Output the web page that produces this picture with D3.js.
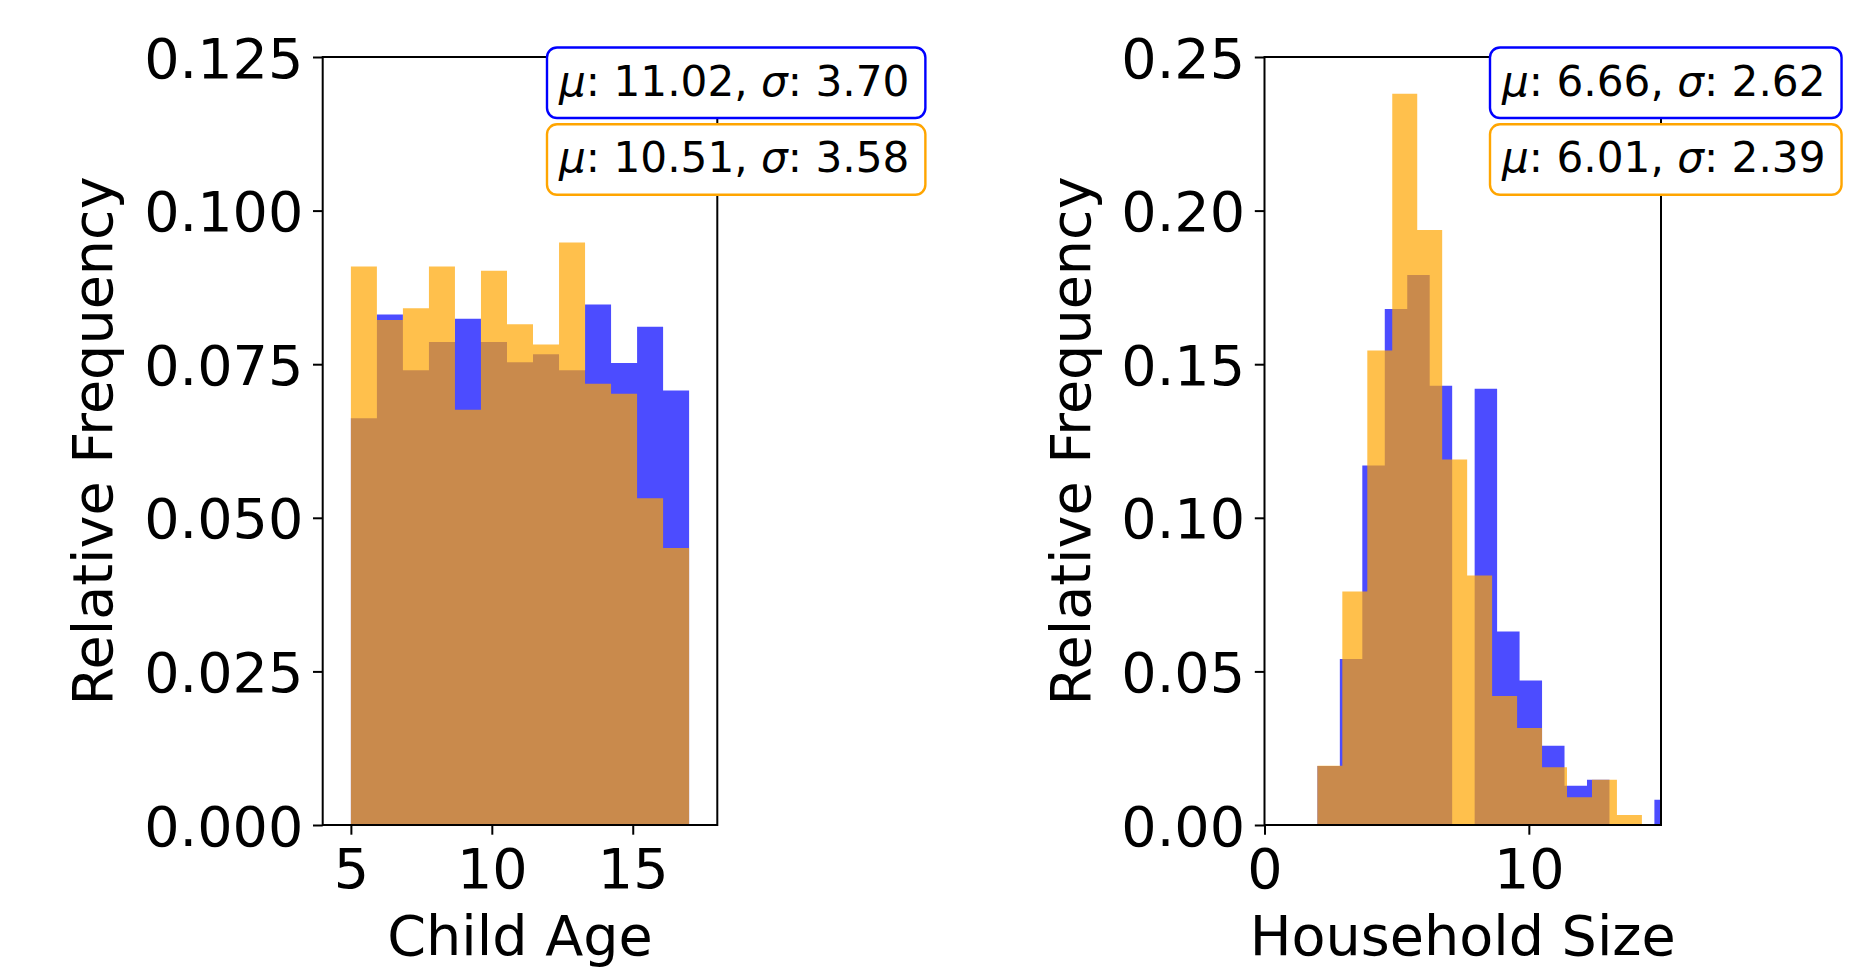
<!DOCTYPE html>
<html><head><meta charset="utf-8">
<script src="https://cdn.jsdelivr.net/npm/d3@7"></script>
<style>
body{margin:0;background:#fff}
svg text{font-family:"DejaVu Sans",sans-serif;fill:#000}
</style>
</head><body>
<svg id="c" width="1874" height="975"></svg>
<script>
// ---------- data ----------
// Child Age histogram (13 bins, 5..17)
const ageEdges = [5, 5.923, 6.846, 7.769, 8.692, 9.615, 10.538, 11.462, 12.385, 13.308, 14.231, 15.154, 16.077, 17];
const ageBlue   = [0.0662, 0.0831, 0.0740, 0.0786, 0.0824, 0.0786, 0.0753, 0.0766, 0.0740, 0.0847, 0.0752, 0.0811, 0.0707];
const ageOrange = [0.0909, 0.0822, 0.0841, 0.0909, 0.0676, 0.0902, 0.0815, 0.0782, 0.0948, 0.0718, 0.0702, 0.0532, 0.0451];
const ageYTicks = [0, 0.025, 0.05, 0.075, 0.1, 0.125];
const ageYLabels = ["0.000", "0.025", "0.050", "0.075", "0.100", "0.125"];
const ageXTicks = [5, 10, 15];
const ageXLabels = ["5", "10", "15"];
const ageMu = ["11.02", "10.51"];
const ageSigma = ["3.70", "3.58"];

// Household Size histogram
const hhBlueEdges = [2, 2.85, 3.7, 4.55, 5.4, 6.25, 7.1, 7.95, 8.8, 9.65, 10.5, 11.35, 12.2, 13.05, 13.9, 14.75, 15.6];
const hhBlue      = [0.0192, 0.054, 0.117, 0.168, 0.179, 0.143, 0, 0.142, 0.063, 0.047, 0.0258, 0.0128, 0.0147, 0, 0, 0.0082];
const hhOrangeEdges = [2, 2.944, 3.889, 4.833, 5.778, 6.722, 7.667, 8.611, 9.556, 10.5, 11.444, 12.389, 13.333, 14.278];
const hhOrange      = [0.0193, 0.076, 0.1545, 0.238, 0.1937, 0.119, 0.0812, 0.042, 0.0316, 0.0188, 0.009, 0.0147, 0.00325];
const hhYTicks = [0, 0.05, 0.1, 0.15, 0.2, 0.25];
const hhYLabels = ["0.00", "0.05", "0.10", "0.15", "0.20", "0.25"];
const hhXTicks = [0, 10];
const hhXLabels = ["0", "10"];
const hhMu = ["6.66", "6.01"];
const hhSigma = ["2.62", "2.39"];

const seriesColors = ["#0000ff", "#ffa500"];

// ---------- drawing ----------
const svg = d3.select("#c");
const TOP = 57, BOTTOM = 825;
const TICK = 9.7, PAD = 9.7, FS = 55.6, AFS = 42.2;

function panel(cfg, idx) {
  const x = d3.scaleLinear().domain(cfg.xDomain).range([cfg.left, cfg.right]);
  const y = d3.scaleLinear().domain(cfg.yDomain).range([BOTTOM, TOP]);
  const g = svg.append("g");
  const clipId = "clip" + idx;
  svg.append("defs").append("clipPath").attr("id", clipId)
    .append("rect").attr("x", cfg.left).attr("y", TOP).attr("width", cfg.right - cfg.left).attr("height", BOTTOM - TOP);

  const bars = g.append("g").attr("clip-path", `url(#${clipId})`);
  cfg.series.forEach((s, si) => {
    const p = d3.path();
    s.values.forEach((v, i) => {
      if (v <= 0) return;
      const x0 = x(s.edges[i]), x1 = x(s.edges[i + 1]);
      p.rect(x0, y(v), x1 - x0, y(0) - y(v));
    });
    bars.append("path").attr("d", p.toString())
      .attr("fill", seriesColors[si]).attr("fill-opacity", 0.7);
  });

  // axes
  const ya = g.append("g").attr("transform", `translate(${cfg.left},0)`)
    .call(d3.axisLeft(y).tickValues(cfg.yTicks).tickFormat((d, i) => cfg.yLabels[i])
      .tickSize(TICK).tickPadding(PAD).tickSizeOuter(0));
  const xa = g.append("g").attr("transform", `translate(0,${BOTTOM})`)
    .call(d3.axisBottom(x).tickValues(cfg.xTicks).tickFormat((d, i) => cfg.xLabels[i])
      .tickSize(TICK).tickPadding(PAD).tickSizeOuter(0));
  [ya, xa].forEach(a => {
    a.select(".domain").remove();
    a.selectAll("line").attr("stroke", "#000").attr("stroke-width", 2);
    a.selectAll("text").attr("font-family", "DejaVu Sans").attr("font-size", FS).attr("fill", "#000");
  });
  ya.selectAll("text").attr("dy", "0.36em");
  xa.selectAll("text").attr("dy", "0.78em");

  // spines
  g.append("rect").attr("x", cfg.left).attr("y", TOP).attr("width", cfg.right - cfg.left)
    .attr("height", BOTTOM - TOP).attr("fill", "none").attr("stroke", "#000").attr("stroke-width", 2);

  // labels
  g.append("text").attr("x", (cfg.left + cfg.right) / 2).attr("y", 955)
    .attr("text-anchor", "middle").attr("font-size", FS).text(cfg.xlabel);
  g.append("text").attr("transform", `translate(${cfg.ylabelX},${(TOP + BOTTOM) / 2}) rotate(-90)`)
    .attr("text-anchor", "middle").attr("font-size", FS).text("Relative Frequency");

  // stat boxes
  const boxTops = [47.5, 124.3], baselines = [95.5, 172];
  cfg.mu.forEach((m, i) => {
    const bg = svg.append("g");
    const rect = bg.append("rect");
    const t = bg.append("text").attr("x", cfg.boxLeft + 12).attr("y", baselines[i]).attr("font-size", AFS);
    t.append("tspan").attr("font-style", "italic").text("\u03bc");
    t.append("tspan").text(": " + m + ", ");
    t.append("tspan").attr("font-style", "italic").text("\u03c3");
    t.append("tspan").text(": " + cfg.sigma[i]);
    const w = t.node().getComputedTextLength();
    rect.attr("x", cfg.boxLeft).attr("y", boxTops[i]).attr("width", w + 12 + 16).attr("height", 70.5)
      .attr("rx", 10).attr("ry", 10).attr("fill", "#fff")
      .attr("stroke", seriesColors[i]).attr("stroke-width", 2.4);
  });
}

panel({
  left: 322.7, right: 717.3, xDomain: [4, 18], yDomain: [0, 0.125],
  yTicks: ageYTicks, yLabels: ageYLabels, xTicks: ageXTicks, xLabels: ageXLabels,
  series: [{edges: ageEdges, values: ageBlue}, {edges: ageEdges, values: ageOrange}],
  xlabel: "Child Age", ylabelX: 112, boxLeft: 547, mu: ageMu, sigma: ageSigma
}, 0);

panel({
  left: 1264.5, right: 1661, xDomain: [0, 15], yDomain: [0, 0.25],
  yTicks: hhYTicks, yLabels: hhYLabels, xTicks: hhXTicks, xLabels: hhXLabels,
  series: [{edges: hhBlueEdges, values: hhBlue}, {edges: hhOrangeEdges, values: hhOrange}],
  xlabel: "Household Size", ylabelX: 1090, boxLeft: 1490, mu: hhMu, sigma: hhSigma
}, 1);
</script>
</body></html>
